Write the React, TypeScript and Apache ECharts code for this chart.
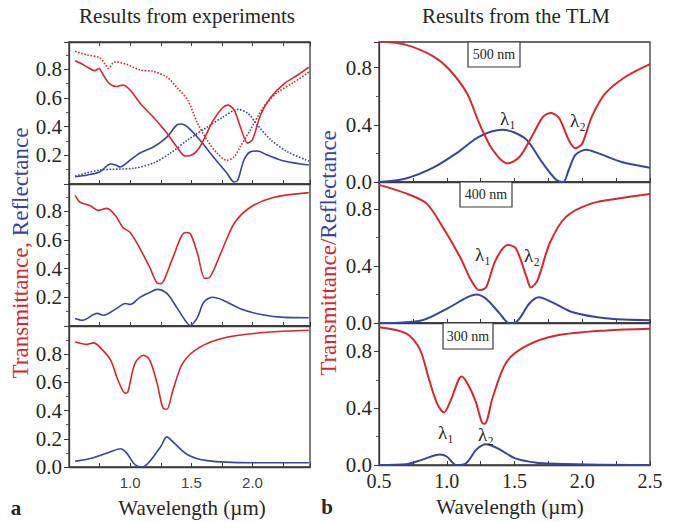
import React, { useEffect, useRef } from "react";
import * as echarts from "echarts";

// ---------- data (wavelength in µm, value 0..1) ----------
// Left column: results from experiments
const expA_T = [[0.55,0.86],[0.6,0.84],[0.65,0.815],[0.71,0.79],[0.745,0.805],[0.78,0.76],[0.83,0.70],[0.89,0.68],[0.94,0.69],[1.0,0.655],[1.08,0.565],[1.19,0.465],[1.3,0.355],[1.38,0.26],[1.45,0.195],[1.5,0.2],[1.57,0.26],[1.68,0.445],[1.76,0.535],[1.8,0.55],[1.85,0.515],[1.9,0.4],[1.96,0.285],[2.0,0.31],[2.07,0.49],[2.15,0.605],[2.26,0.70],[2.37,0.76],[2.46,0.815]];
const expA_Tdot = [[0.55,0.925],[0.65,0.9],[0.75,0.88],[0.8,0.83],[0.82,0.805],[0.86,0.845],[0.88,0.85],[0.97,0.835],[1.08,0.795],[1.19,0.785],[1.3,0.745],[1.38,0.675],[1.47,0.585],[1.55,0.425],[1.63,0.305],[1.71,0.215],[1.79,0.165],[1.85,0.19],[1.9,0.26],[1.98,0.375],[2.09,0.535],[2.2,0.635],[2.34,0.71],[2.46,0.78]];
const expA_R = [[0.55,0.05],[0.65,0.063],[0.75,0.084],[0.84,0.139],[0.88,0.132],[0.92,0.118],[0.97,0.146],[1.08,0.216],[1.19,0.258],[1.3,0.327],[1.38,0.41],[1.42,0.418],[1.47,0.397],[1.57,0.307],[1.68,0.188],[1.79,0.077],[1.85,0.014],[1.88,0.028],[1.93,0.167],[1.98,0.223],[2.04,0.23],[2.12,0.202],[2.26,0.16],[2.46,0.132]];
const expA_Rdot = [[0.55,0.055],[0.75,0.097],[1.03,0.11],[1.19,0.146],[1.33,0.216],[1.47,0.307],[1.63,0.397],[1.76,0.467],[1.88,0.52],[1.96,0.494],[2.04,0.411],[2.15,0.307],[2.29,0.223],[2.46,0.16]];

const expB_T = [[0.55,0.91],[0.59,0.863],[0.67,0.84],[0.74,0.806],[0.81,0.82],[0.88,0.77],[0.94,0.687],[1.0,0.652],[1.08,0.54],[1.16,0.408],[1.22,0.30],[1.25,0.295],[1.28,0.325],[1.35,0.478],[1.45,0.652],[1.49,0.645],[1.55,0.506],[1.61,0.332],[1.65,0.339],[1.74,0.506],[1.85,0.715],[1.98,0.826],[2.17,0.896],[2.46,0.93]];
const expB_R = [[0.55,0.053],[0.61,0.04],[0.73,0.088],[0.78,0.075],[0.89,0.123],[0.96,0.157],[1.0,0.15],[1.08,0.2],[1.16,0.234],[1.22,0.255],[1.3,0.227],[1.38,0.13],[1.45,0.039],[1.49,0.004],[1.55,0.06],[1.6,0.164],[1.67,0.2],[1.76,0.18],[1.9,0.12],[2.07,0.08],[2.26,0.06],[2.46,0.058]];

const expC_T = [[0.55,0.887],[0.59,0.878],[0.65,0.87],[0.7,0.88],[0.75,0.852],[0.84,0.758],[0.9,0.617],[0.96,0.524],[0.98,0.53],[1.04,0.737],[1.11,0.793],[1.16,0.758],[1.22,0.595],[1.27,0.415],[1.3,0.41],[1.35,0.546],[1.43,0.737],[1.57,0.85],[1.79,0.92],[2.12,0.956],[2.46,0.97]];
const expC_R = [[0.55,0.04],[0.7,0.066],[0.84,0.108],[0.92,0.129],[0.97,0.1],[1.04,0.016],[1.1,0.0],[1.16,0.04],[1.25,0.145],[1.3,0.214],[1.35,0.178],[1.47,0.087],[1.63,0.045],[1.98,0.03],[2.46,0.03]];

// Right column: results from the TLM
const tlm500_T = [[0.5,0.985],[0.7,0.96],[0.9,0.88],[1.02,0.786],[1.15,0.62],[1.24,0.41],[1.34,0.224],[1.45,0.13],[1.54,0.18],[1.64,0.34],[1.71,0.456],[1.77,0.483],[1.83,0.446],[1.9,0.295],[1.95,0.236],[2.0,0.27],[2.07,0.456],[2.17,0.62],[2.32,0.737],[2.5,0.825]];
const tlm500_R = [[0.5,0.0],[0.7,0.025],[0.9,0.1],[1.07,0.2],[1.24,0.318],[1.41,0.365],[1.49,0.35],[1.59,0.295],[1.71,0.13],[1.81,0.014],[1.86,0.0],[1.9,0.084],[1.95,0.19],[2.03,0.225],[2.12,0.2],[2.29,0.14],[2.5,0.1]];
const tlm400_T = [[0.5,0.97],[0.7,0.91],[0.85,0.84],[0.97,0.674],[1.1,0.46],[1.18,0.3],[1.24,0.23],[1.29,0.25],[1.36,0.44],[1.45,0.547],[1.51,0.525],[1.59,0.32],[1.62,0.25],[1.67,0.3],[1.76,0.56],[1.88,0.745],[2.07,0.84],[2.29,0.877],[2.5,0.905]];
const tlm400_R = [[0.5,0.0],[0.82,0.02],[1.02,0.11],[1.15,0.18],[1.22,0.2],[1.29,0.17],[1.39,0.068],[1.46,0.0],[1.51,0.005],[1.61,0.137],[1.68,0.18],[1.78,0.145],[1.93,0.075],[2.17,0.034],[2.5,0.02]];
const tlm300_T = [[0.5,0.97],[0.7,0.927],[0.8,0.818],[0.87,0.6],[0.93,0.43],[0.98,0.37],[1.03,0.457],[1.11,0.624],[1.15,0.58],[1.21,0.457],[1.26,0.298],[1.28,0.29],[1.34,0.479],[1.44,0.724],[1.59,0.84],[1.81,0.912],[2.18,0.948],[2.5,0.96]];
const tlm300_R = [[0.5,0.0],[0.7,0.005],[0.82,0.038],[0.95,0.074],[1.0,0.06],[1.07,0.0],[1.14,0.01],[1.22,0.11],[1.29,0.147],[1.39,0.11],[1.51,0.045],[1.74,0.01],[2.5,0.0]];

const titles = ["Results from experiments", "Results from the TLM"];
const xName = "Wavelength (µm)";
const thicknessLabels = ["500 nm", "400 nm", "300 nm"];

const RED = "#d9272f";
const BLUE = "#3a449e";
const INK = "#262626";
const SERIF = "Liberation Serif";
const SANS = "Liberation Sans";

export default function App() {
  const ref = useRef<HTMLDivElement>(null);
  useEffect(() => {
    if (!ref.current) return;
    const chart = echarts.init(ref.current, undefined, { renderer: "svg" });

    const grids = [
      { left: 69, top: 42, width: 241, height: 142 },
      { left: 69, top: 184, width: 241, height: 142 },
      { left: 69, top: 326, width: 241, height: 141 },
      { left: 379, top: 42, width: 271, height: 140 },
      { left: 379, top: 182, width: 271, height: 141 },
      { left: 379, top: 323, width: 271, height: 142 },
    ].map((g) => ({ ...g, show: true, borderColor: "#3a3a3a", borderWidth: 1.3, backgroundColor: "transparent", outerBoundsMode: "none", containLabel: false }));

    const yMax = [0.99, 0.99, 1.0, 0.98, 0.99, 1.0];

    const near = (a: number, b: number) => Math.abs(a - b) < 1e-6;
    const fmtLeftX = (v: number) => {
      const r = Math.round(v * 100) / 100;
      return (near(r, 1) || near(r, 1.5) || near(r, 2)) ? r.toFixed(1) : "";
    };
    const fmtRightX = (v: number) => {
      const r = Math.round(v * 100) / 100;
      return near(r * 2, Math.round(r * 2)) && r >= 0.49 && r <= 2.51 ? r.toFixed(1) : "";
    };

    const xAxis: any[] = [0, 1, 2, 3, 4, 5].map((i) => {
      const left = i < 3;
      const showLab = i === 2 || i === 5;
      return {
        type: "value",
        gridIndex: i,
        position: "bottom",
        min: 0.5,
        max: left ? 2.47 : 2.5,
        interval: 0.25,
        axisLine: { show: true, onZero: false, lineStyle: { color: "#3a3a3a", width: 1.3 } },
        axisTick: { show: true, inside: true, length: 4, lineStyle: { color: "#3a3a3a" } },
        splitLine: { show: false },
        axisLabel: {
          show: showLab,
          margin: left ? 8 : 6,
          fontFamily: left ? SANS : SERIF,
          fontSize: left ? 15 : 20,
          color: left ? "#444" : INK,
          formatter: left ? fmtLeftX : fmtRightX,
        },
      };
    });
    // top-edge ticks of the upper-left panel
    xAxis.push({
      type: "value",
      gridIndex: 0,
      position: "top",
      min: 0.5,
      max: 2.47,
      interval: 0.25,
      axisLine: { show: true, onZero: false, lineStyle: { color: "#3a3a3a", width: 1.3 } },
      axisTick: { show: true, inside: true, length: 4, lineStyle: { color: "#3a3a3a" } },
      splitLine: { show: false },
      axisLabel: { show: false },
    });

    const yAxis = [0, 1, 2, 3, 4, 5].map((i) => {
      const left = i < 3;
      return {
        type: "value",
        gridIndex: i,
        min: 0,
        max: yMax[i],
        interval: left ? 0.2 : 0.4,
        axisLine: { show: true, onZero: false, lineStyle: { color: "#3a3a3a", width: 1.3 } },
        axisTick: { show: true, inside: false, length: 5, lineStyle: { color: "#3a3a3a" } },
        minorTick: { show: true, splitNumber: 2, length: 3, lineStyle: { color: "#555" } },
        splitLine: { show: false },
        minorSplitLine: { show: false },
        axisLabel: {
          margin: 7,
          fontFamily: SERIF,
          fontSize: 21,
          color: INK,
          formatter: (v: number) => {
            const r = Math.round(v * 100) / 100;
            if (r > 0.9) return "";
            if (left && i < 2 && r < 0.05) return "";
            return r.toFixed(1);
          },
        },
      };
    });

    const line = (idx: number, data: number[][], color: string, dotted = false) => ({
      type: "line",
      xAxisIndex: idx,
      yAxisIndex: idx,
      data,
      showSymbol: false,
      symbol: "none",
      smooth: 0.3,
      clip: true,
      lineStyle: { color, width: idx < 3 ? 1.6 : 2, type: dotted ? "dotted" : "solid" },
      z: color === RED ? 3 : 2,
    });

    const series = [
      line(0, expA_Tdot, RED, true),
      line(0, expA_Rdot, BLUE, true),
      line(0, expA_R, BLUE),
      line(0, expA_T, RED),
      line(1, expB_R, BLUE),
      line(1, expB_T, RED),
      line(2, expC_R, BLUE),
      line(2, expC_T, RED),
      line(3, tlm500_R, BLUE),
      line(3, tlm500_T, RED),
      line(4, tlm400_R, BLUE),
      line(4, tlm400_T, RED),
      line(5, tlm300_R, BLUE),
      line(5, tlm300_T, RED),
    ];

    const txt = (x: number, y: number, text: string, size: number, bold = false) => ({
      type: "text",
      x, y, z: 100,
      style: {
        text,
        fill: INK,
        font: `${bold ? "bold " : ""}${size}px ${SERIF}`,
        textAlign: "center",
        textVerticalAlign: "middle",
      },
    });

    const box = (x: number, y: number, w: number, h: number, label: string) => ({
      type: "group",
      z: 100,
      children: [
        { type: "rect", z: 100, shape: { x, y, width: w, height: h }, style: { fill: "#fff", stroke: "#3a3a3a", lineWidth: 1.2 } },
        { type: "text", z: 101, x: x + w / 2, y: y + h / 2, style: { text: label, fill: INK, font: `14px ${SERIF}`, textAlign: "center", textVerticalAlign: "middle" } },
      ],
    });

    const yname = (x: number, a: string, b: string) => ({
      type: "text", x, y: 253, rotation: Math.PI / 2, z: 100,
      style: {
        text: `{r|${a}}{b|${b}}`,
        font: `23px ${SERIF}`,
        textAlign: "center", textVerticalAlign: "middle",
        rich: { r: { fill: RED, color: RED, font: `23px ${SERIF}` }, b: { fill: BLUE, color: BLUE, font: `23px ${SERIF}` } },
      },
    });

    const graphic = [
      txt(187, 16, titles[0], 21),
      txt(516, 16, titles[1], 21),
      txt(192, 508, xName, 21),
      txt(510, 507, xName, 21),
      txt(16, 508, "a", 21, true),
      txt(327, 507, "b", 21, true),
      yname(20, "Transmittance, ", "Reflectance"),
      yname(328, "Transmittance/", "Reflectance"),
      box(468, 42, 52, 25, thicknessLabels[0]),
      box(460, 182, 52, 25, thicknessLabels[1]),
      box(443, 323, 50, 26, thicknessLabels[2]),
      txt(508, 118, "λ₁", 19),
      txt(578, 120, "λ₂", 19),
      txt(483, 254, "λ₁", 19),
      txt(532, 255, "λ₂", 19),
      txt(446, 432, "λ₁", 19),
      txt(486, 434, "λ₂", 19),
    ];

    chart.setOption({
      animation: false,
      backgroundColor: "#fff",
      grid: grids,
      xAxis,
      yAxis,
      series,
      graphic,
    });
    return () => chart.dispose();
  }, []);

  return <div ref={ref} style={{ position: "fixed", left: 0, top: 0, width: 683, height: 522 }} />;
}
